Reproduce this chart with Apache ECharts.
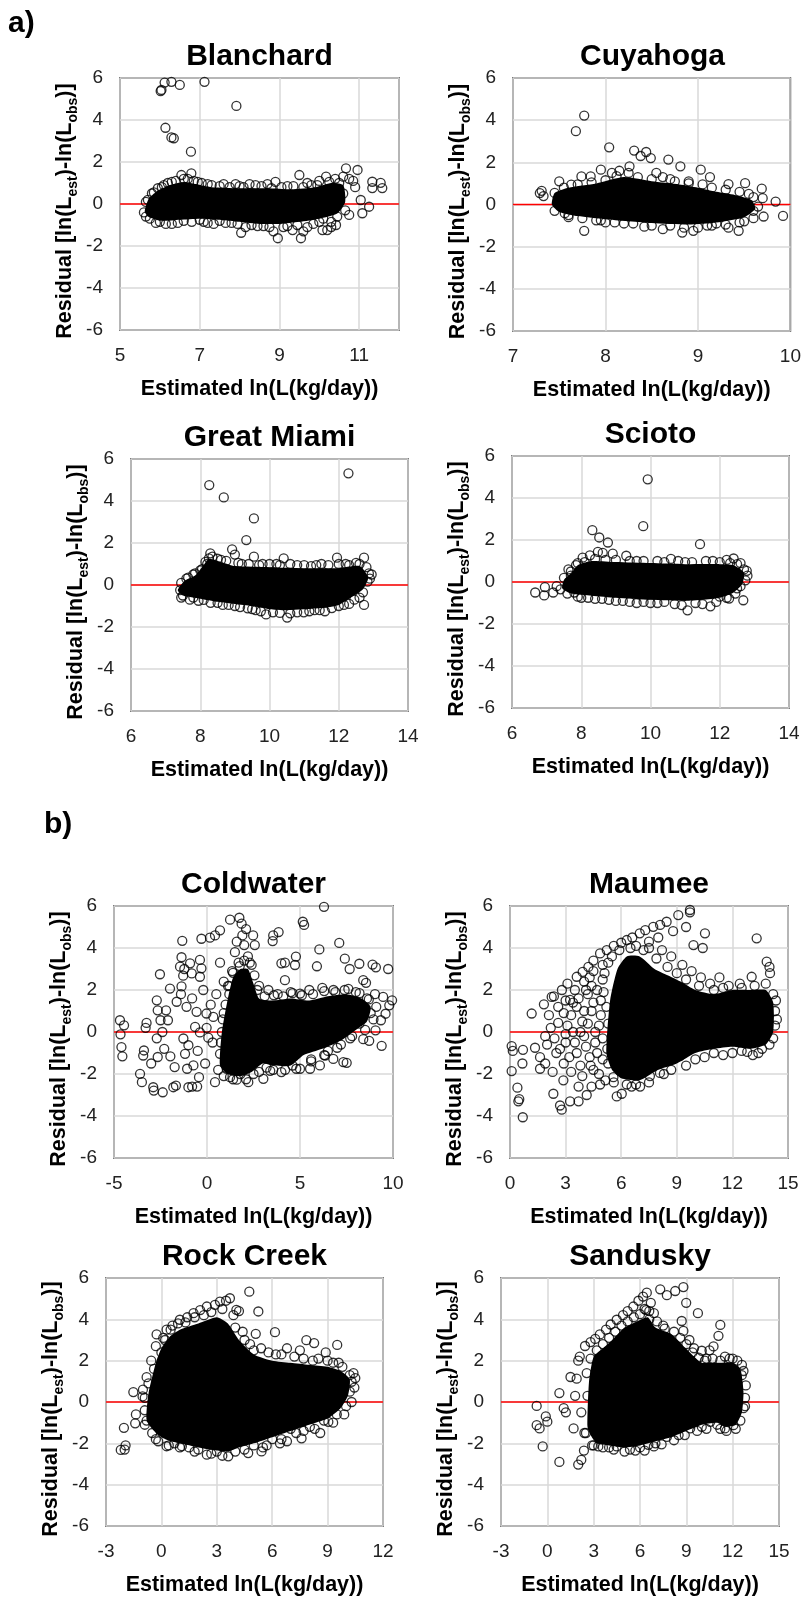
<!DOCTYPE html>
<html>
<head>
<meta charset="utf-8">
<script src="https://cdn.jsdelivr.net/npm/echarts@6/dist/echarts.min.js"></script>
<style>
  html, body { margin: 0; background: #fff; }
  #main { width: 804px; height: 1597px; }
</style>
</head>
<body>
<div id="main"></div>
<script>
// ---- data ----
const panelNames = ['Blanchard', 'Cuyahoga', 'Great Miami', 'Scioto', 'Coldwater', 'Maumee', 'Rock Creek', 'Sandusky'];
const xMins = [5, 7, 6, 6, -5, 0, -3, -3];
const xMaxs = [12, 10, 14, 14, 10, 15, 12, 15];
const xSteps = [2, 1, 2, 2, 5, 3, 3, 3];
const yMin = -6, yMax = 6, yStep = 2;
const zeroResidual = 0;

// scattered circles (outliers, loose points)
const blanchardPoints = [[6.04,5.43],[6.02,5.38],[6.12,5.78],[6.29,5.82],[6.5,5.67],[7.12,5.82],[7.92,4.67],[6.14,3.63],[6.29,3.17],[6.35,3.13],[6.78,2.49],
  [5.7,0.2],[5.8,0.5],[5.95,0.75],[6.1,0.9],[6.3,1.05],[6.54,1.38],[6.79,1.46],[6.7,1.2],[6.95,1.05],[7.2,0.95],[7.5,0.85],[7.9,0.95],[8.1,0.8],[8.4,0.9],[8.8,0.75],[8.9,1.05],[9.2,0.85],[9.5,1.38],[9.8,0.9],[10.0,1.1],[10.17,1.3],[10.4,1.2],[10.67,1.7],[10.96,1.62],[10.85,1.1],[11.33,1.06],[11.54,1.01],[11.58,0.76],[11.33,0.76],[11.04,0.19],[11.25,-0.13],[11.08,-0.44],[10.75,-0.52],[10.42,-1.0],[10.6,0.5],[10.9,0.8],
  [5.6,-0.4],[5.75,-0.7],[6.0,-0.85],[6.3,-0.95],[6.6,-0.8],[7.0,-0.75],[7.2,-0.9],[7.5,-0.8],[7.8,-0.9],[8.04,-1.37],[8.3,-1.0],[8.6,-1.05],[8.96,-1.63],[9.1,-1.1],[9.33,-1.24],[9.54,-1.63],[9.7,-1.1],[10.08,-1.24],[10.2,-1.24],[10.3,-0.85],[10.1,-0.7]];
const cuyahogaPoints = [[7.77,4.22],[7.68,3.48],[8.04,2.71],[8.31,2.56],[8.44,2.49],[8.49,2.2],[8.38,2.3],[8.68,2.13],[8.81,1.81],[9.03,1.65],[9.13,1.3],[9.33,0.97],[9.51,1.01],[9.69,0.75],[9.84,0.14],[9.92,-0.54],[9.71,-0.57],[9.6,-0.3],[9.7,0.3],[9.44,-1.25],[9.33,-1.1],[8.83,-1.33],[8.95,-1.25],[8.62,-1.17],[8.42,-1.05],[7.77,-1.25],[7.29,0.54],[7.33,0.4],[7.31,0.65],[7.56,-0.41],[7.74,1.33],[7.84,1.33],[7.95,1.65],[8.07,1.5],[8.26,1.81],[7.5,1.1],[7.63,0.94],[8.15,1.6],[8.55,1.5],[8.7,1.2],[8.9,1.1],[9.2,-0.9],[9.1,-1.0],[8.2,-0.9],[8.0,-0.85],[7.9,-0.75],[7.6,-0.6],[9.5,-0.8],[9.55,0.5]];
const greatMiamiPoints = [[8.26,4.76],[8.68,4.17],[9.55,3.17],[9.33,2.14],[12.28,5.32],
  [8.82,-0.95],[9.37,-1.11],[9.9,-1.4],[10.51,-1.55],[10.3,-1.33],[10.6,-1.35],[10.99,-1.3],[11.3,-1.2],[11.6,-1.25],[12.73,-0.95],[12.6,-0.6],[12.83,0.16],[12.87,0.55],[12.73,1.3],[11.95,1.3],[10.41,1.27],[9.55,1.35],[8.92,1.7],[9.0,1.45],[8.29,1.51],[8.25,1.27],[7.42,-0.24],[8.1,-0.71],[7.6,0.3],[7.8,0.5],[8.0,0.7],[8.2,1.0],[8.6,1.2],[9.2,1.0],[9.8,1.0],[10.2,1.0],[10.8,0.95],[11.2,0.9],[11.5,1.0],[12.2,1.0],[12.5,1.05],[12.9,0.3],[12.3,-0.9],[12.0,-1.0],[9.6,-1.2],[9.0,-1.0],[8.5,-0.85],[7.8,-0.6],[7.5,-0.5]];
const sciotoPoints = [[9.92,4.89],[9.79,2.66],[8.32,2.47],[8.52,2.12],[8.77,1.88],[8.48,1.43],[8.62,1.39],[8.91,1.35],[8.04,1.16],[8.25,1.27],[11.43,1.8],[7.63,0.6],[6.67,-0.5],[6.93,-0.64],[6.95,-0.24],[7.19,-0.5],[7.29,-0.2],[7.4,-0.35],
  [12.78,0.53],[12.74,0.08],[12.68,-0.87],[12.27,-0.79],[11.73,-1.16],[11.07,-1.35],[12.4,1.12],[12.6,0.9],[10.59,1.1],[9.3,1.25],[7.8,-0.5],[8.0,-0.75],[8.6,-0.8],[9.2,-0.9],[9.8,-0.95],[10.4,-0.95],[11.3,-1.0],[12.0,-0.7],[12.5,-0.3],[7.7,0.3],[7.9,0.9],[9.6,1.0],[10.2,1.0],[11.0,0.95],[11.8,1.0],[12.3,0.9]];
const coldwaterPoints = [[-4.68,0.56],[-4.46,0.32],[-4.65,-0.11],[-4.6,-0.72],[-4.55,-1.16],[-3.6,-1.99],[-3.5,-2.39],[-2.89,-2.63],[-2.38,-2.87],[-2.86,-2.79],[-1.81,-2.63],[-1.67,-2.55],[-1.0,-2.63],[-0.8,-2.6],[-0.53,-2.6],
  [-3.39,-0.88],[-3.43,-1.12],[-3.3,0.2],[-3.25,0.43],[-2.7,-0.3],[-2.65,-1.19],[-2.65,1.03],[-2.7,1.51],[-2.53,2.75],[-2.5,0.56],[-2.4,0.0],[-1.99,2.07],[-2.2,1.03],[-2.1,0.56],[-1.97,-1.16],[-1.74,-1.67],
  [-1.33,4.34],[-1.37,3.56],[-1.45,3.11],[-1.22,3.0],[-1.28,2.68],[-1.37,2.17],[-0.91,3.27],[-0.82,2.79],[-0.38,3.43],[-0.3,3.03],[-0.38,2.63],[-0.3,4.44],[0.16,4.49],[0.43,4.6],[0.7,4.84],[1.24,5.35],[1.74,5.44],[1.86,5.16],[1.9,4.6],[2.48,4.6],[2.0,4.14],[2.57,4.14],
  [3.56,4.6],[3.85,4.76],[3.53,4.33],[5.15,5.25],[5.22,5.1],[6.29,5.96],[4.19,3.3],[4.0,3.27],[4.78,3.59],[4.73,3.19],[6.04,3.93],[5.91,3.13],[7.11,4.24],[7.41,3.49],[7.67,3.0],[8.19,3.25],[8.9,3.21],[9.08,3.08],[9.74,3.0],[8.4,2.47],[8.55,2.34],[4.19,2.47],[5.0,1.83],
  [9.03,1.8],[9.47,1.67],[9.95,1.51],[9.8,1.27],[9.6,0.87],[9.35,0.56],[9.06,0.08],[9.39,-0.66],[8.72,-0.42],[8.4,-0.34],[7.33,-1.43],[7.51,-1.47],[6.79,-1.28],[6.35,-1.12],[6.07,-1.59],[5.54,-1.75],[5.0,-1.75],[4.0,-1.91],[3.56,-1.8],[3.03,-2.23],[2.22,-2.39],[1.6,-2.27],[1.24,-2.15],[1.06,-1.75],[0.43,-2.39],[0.7,-1.04],
  [-0.43,-2.15],[-0.73,-1.59],[-1.07,-1.75],[-1.18,-1.04],[-0.38,-0.02],[-0.02,0.2],[0.07,-0.27],[-0.64,0.24],[-1.0,-0.63],[-1.27,-0.31],[0.7,3.3],[1.4,2.82],[1.13,2.19],[1.76,3.14],
  [-1.63,1.44],[-1.1,1.2],[-0.56,0.96],[-0.03,0.88],[0.34,0.72],[-1.4,1.8],[-0.8,1.6],[0.2,1.3],[0.5,1.8],[-0.2,2.0],[0.9,2.4],[1.5,3.8],[2.2,3.6],[2.4,3.2],[2.1,4.9],[1.6,4.3],[2.8,2.2],[3.3,2.0],[3.8,1.8],[4.5,1.9],[5.5,2.0],[6.2,2.1],[6.8,2.0],[7.4,2.0],[8.0,1.9],[8.6,1.6],[8.8,0.9],[8.2,0.4],[7.8,-0.2],[7.2,-0.6],[6.5,-0.9],[5.6,-1.3],[4.6,-1.6],[3.2,-1.7],[2.5,-2.0],[1.8,-2.0],[1.0,-1.3],[0.8,0.0],[0.9,0.9],[1.2,1.8],[-2.3,-0.8],[-3.0,-1.5],[-0.1,-1.5],[-0.5,-0.9],[0.3,-0.5]];
const maumeePoints = [[0.09,-0.67],[0.15,-0.9],[0.09,-1.86],[0.4,-2.65],[0.45,-3.3],[0.5,-3.2],[0.69,-4.06],[0.7,-0.85],[0.67,-1.5],[1.17,0.88],[1.35,-0.75],[1.62,-1.2],[1.62,-1.75],[3.24,1.53],[2.0,-0.6],[1.9,-1.5],[2.3,-1.9],
  [1.83,1.32],[2.25,1.67],[2.37,1.7],[2.8,2.0],[3.1,2.3],[3.6,2.63],[3.92,2.86],[4.23,3.1],[4.5,3.4],[4.86,3.74],[5.22,3.9],[5.6,4.1],[6.0,4.25],[6.3,4.38],[6.6,4.5],[7.0,4.7],[7.3,4.85],[7.73,5.01],[8.1,5.1],[8.45,5.25],[9.08,5.57],[9.71,5.81],[9.71,5.7],[9.5,5.0],[10.52,4.7],[9.9,4.14],[10.4,4.0],[8.8,4.8],[8.0,4.5],[7.5,4.3],
  [3.0,1.5],[3.5,2.0],[4.0,2.4],[4.5,2.9],[5.0,3.2],
  [2.34,-2.94],[2.7,-3.5],[2.79,-3.7],[3.24,-3.3],[3.7,-3.3],[4.14,-3.0],[4.86,-2.5],[5.58,-2.15],[5.76,-3.07],[6.03,-2.94],[6.56,-2.6],[7.02,-2.6],[7.55,-2.1],[8.09,-1.95],[9.17,-1.15],[2.88,-2.3],[3.3,-1.9],[3.8,-1.6],[4.3,-1.2],[2.5,-1.0],[3.0,-0.5],[3.4,0.0],[3.9,0.5],[4.4,1.0],[4.0,-0.2],[4.6,-0.5],[4.8,0.3],[4.2,1.8],[3.6,1.2],[2.9,0.9],[2.6,0.43],[3.2,-1.2],[4.5,-1.8],[5.0,-1.3],[4.9,1.5],[4.4,2.2],[5.0,2.5],
  [13.31,4.46],[13.85,3.35],[14.0,3.1],[14.03,2.8],[13.04,2.63],[14.2,1.8],[14.3,1.0],[14.3,0.3],[14.2,-0.3],[13.6,-0.8],[13.1,-1.1],[12.5,-0.9],[11.5,-1.1],[10.5,-1.2],[12.5,2.1],[11.5,2.1],[10.8,2.3],[10.3,2.6],[11.3,2.6],[9.8,2.9],[9.3,3.2],[8.7,3.6],[8.2,3.9],[7.5,4.0],[6.8,4.1]];
const rockCreekPoints = [[-2.2,-2.32],[-2.03,-1.25],[-1.94,-2.1],[-1.99,-2.3],[-1.52,0.48],[-1.38,-0.6],[-1.42,-1.03],[-1.02,0.27],[-0.9,-0.4],
  [-0.26,3.27],[0.28,3.5],[1.0,3.98],[1.74,4.3],[2.46,4.62],[3.17,4.86],[3.71,5.02],[3.5,4.9],[2.9,4.7],[2.1,4.45],[1.4,4.1],[0.6,3.7],[4.76,5.34],[5.25,4.38],[4.06,4.46],[4.2,4.4],[5.11,3.3],[6.15,3.38],[7.85,2.99],[8.27,2.85],[9.52,2.76],[10.5,1.16],[10.3,0.98],
  [9.04,-0.96],[8.04,-1.2],[7.59,-1.76],[6.42,-2.0],[5.42,-2.39],[4.7,-2.47],[3.62,-2.63],[2.46,-2.55],[1.11,-2.14],[0.28,-2.14],[-0.17,-1.9],[-0.5,-1.5],[-0.8,-0.9],[-0.9,0.2],[-0.7,0.9],[-0.4,1.6],[0,2.4],[0.2,3.0],
  [4.5,3.0],[5.0,2.5],[5.8,2.4],[6.5,2.3],[7.2,2.2],[8.5,2.1],[9.3,1.9],[9.8,1.7],[10.2,1.3],[10.2,0.5],[10.0,-0.2],[9.5,-0.6],[8.8,-0.9],[7.0,-1.3],[6.0,-1.8],[5.0,-2.1],[4.0,-2.4],[3.0,-2.4],[2.0,-2.3],[1.5,-2.2],[0.7,-2.0],[8.6,-1.5],[7.3,-1.5],[6.8,-1.9],[5.7,-2.1],[4.3,2.2],[6.8,2.6],[7.5,2.5],[8.9,2.4]];
const sanduskyPoints = [[-0.69,-0.19],[-0.69,-1.12],[-0.5,-1.28],[-0.3,-2.15],[-0.1,-0.7],[0,-0.95],[0.78,-2.9],[0.78,0.43],[1.06,-0.3],[1.2,-0.5],[2.0,-3.03],[2.2,-2.8],[2.37,-2.35],[1.7,-1.28],[1.9,1.13],[1.5,1.21],[2.0,2.0],[2.1,2.2],[1.8,0.3],[2.2,-0.5],[2.4,-1.5],
  [2.44,2.71],[2.8,2.9],[3.1,3.05],[3.4,3.27],[3.8,3.5],[4.1,3.75],[4.49,3.98],[4.9,4.2],[5.2,4.4],[5.57,4.62],[5.9,4.9],[6.2,5.1],[6.44,5.29],[6.3,4.5],[6.7,4.8],[7.31,5.45],[7.74,5.17],[8.28,5.37],[8.81,5.56],[8.99,4.8],[9.75,4.3],[11.2,3.73],[11.08,3.2],[10.76,2.69],[10.0,2.48],[8.81,3.44],[8.7,3.92],
  [12.59,1.3],[12.05,-1.12],[11.5,-1.28],[3.3,-2.15],[5.35,-2.3],[4.49,-2.15],[6.54,-2.07],[7.74,-1.69],[9.25,-1.28],[10.55,-0.96],[12.8,0.2],[12.7,-0.3],[12.6,1.8],[12.0,2.1],[11.5,2.2],[10.5,2.5],[10.3,2.1],[9.5,2.6],[9.2,3.0],[7.5,3.7],[6.9,4.3],[6.6,4.4],[3.0,-2.1],[4.0,-2.2],[6.0,-2.2],[7.0,-2.0],[8.5,-1.6],[10,-1.2],[11.0,-1.1]];

// circles sitting on the rim of each dense cloud
const blanchardRim = [[5.65,0.1],[5.85,0.55],[6.05,0.8],[6.2,1.0],[6.4,1.1],[6.6,1.2],[6.85,1.1],[7.05,1.0],[7.3,0.9],[7.6,0.95],[7.75,0.8],[8.0,0.85],[8.25,0.95],[8.55,0.85],[8.7,0.95],[9.05,0.8],[9.35,0.85],[9.6,0.8],[9.7,1.0],[9.95,0.9],[10.25,1.05],[10.5,1.0],[10.6,1.3],[10.75,1.2],
  [5.65,-0.6],[5.9,-0.9],[6.15,-0.95],[6.45,-0.9],[6.8,-0.85],[7.1,-0.85],[7.35,-0.95],[7.65,-0.9],[7.95,-0.95],[8.15,-1.1],[8.45,-1.05],[8.75,-1.1],[8.85,-1.3],[9.2,-1.05],[9.45,-1.0],[9.6,-1.3],[9.85,-0.95],[10.0,-0.85],[10.3,-1.1],[10.45,-0.6],[10.65,-0.3]];
const cuyahogaRim = [[7.45,0.55],[7.55,0.8],[7.7,0.95],[7.85,1.05],[8.0,1.15],[8.12,1.35],[8.25,1.5],[8.35,1.3],[8.5,1.2],[8.62,1.3],[8.75,1.1],[8.9,1.0],[9.05,0.95],[9.15,0.8],[9.3,0.7],[9.45,0.6],[9.6,0.35],
  [7.45,-0.3],[7.6,-0.5],[7.75,-0.65],[7.95,-0.75],[8.1,-0.85],[8.3,-0.9],[8.5,-1.0],[8.7,-1.0],[8.85,-1.1],[9.0,-1.1],[9.15,-1.0],[9.3,-0.95],[9.45,-0.85],[9.6,-0.65],[9.65,-0.1]];
const greatMiamiRim = [[7.45,0.1],[7.65,0.35],[7.85,0.55],[8.05,0.75],[8.15,1.1],[8.35,1.35],[8.5,1.25],[8.75,1.15],[9.1,1.05],[9.4,1.0],[9.7,0.95],[10.0,1.0],[10.3,0.95],[10.6,1.0],[11.0,0.95],[11.35,0.95],[11.7,0.95],[12.0,1.0],[12.3,0.95],[12.6,1.0],[12.8,0.85],[12.95,0.5],
  [7.45,-0.6],[7.7,-0.7],[7.95,-0.75],[8.3,-0.85],[8.65,-0.95],[9.15,-1.05],[9.5,-1.15],[9.75,-1.25],[10.1,-1.3],[10.8,-1.3],[11.15,-1.25],[11.45,-1.2],[11.8,-1.1],[12.15,-0.95],[12.45,-0.7],[12.7,-0.35]];
const sciotoRim = [[7.5,0.2],[7.7,0.5],[7.85,0.8],[8.1,0.95],[8.4,1.1],[8.7,1.05],[9.0,1.05],[9.4,1.0],[9.8,1.0],[10.4,0.95],[10.8,1.0],[11.2,0.95],[11.6,1.0],[12.0,0.95],[12.2,1.05],[12.5,0.85],[12.7,0.6],[12.8,0.3],
  [7.6,-0.55],[7.9,-0.7],[8.2,-0.75],[8.4,-0.8],[8.8,-0.85],[9.0,-0.9],[9.4,-0.95],[9.6,-1.0],[10.0,-1.0],[10.2,-1.0],[10.7,-1.05],[10.9,-1.1],[11.5,-1.05],[11.9,-0.95],[12.2,-0.75],[12.45,-0.55],[12.6,-0.2]];
const coldwaterRim = [[0.6,-1.8],[0.75,-0.5],[0.85,0.6],[1.0,1.3],[1.2,2.2],[1.35,2.9],[1.7,3.3],[2.0,3.4],[2.3,3.3],[2.55,2.7],[2.7,2.0],[3.1,1.7],[3.6,1.75],[4.1,1.7],[4.6,1.85],[5.1,1.75],[5.7,1.8],[6.3,1.95],[6.9,1.9],[7.6,2.05],[8.2,1.85],[8.7,1.55],[9.1,1.2],[8.95,0.6],[8.5,0.1],[7.7,-0.3],[7.0,-0.75],[6.3,-1.1],[5.6,-1.4],[4.8,-1.75],[4.2,-1.8],[3.4,-1.85],[2.8,-1.9],[2.1,-2.25],[1.4,-2.25],[0.9,-2.1]];
const maumeeRim = [[2.2,0.2],[2.4,-0.3],[2.7,-0.8],[2.9,-1.5],[3.1,0.3],[3.3,0.8],[3.5,-0.5],[3.6,-1.0],[3.7,1.6],[3.8,0.0],[3.9,-2.1],[4.0,1.0],[4.1,-0.7],[4.2,0.4],[4.3,2.6],[4.35,-1.6],[4.5,1.4],[4.6,0.0],[4.7,-1.0],[4.7,2.0],[4.8,-2.0],[4.9,0.8],[5.0,-0.3],[5.05,1.9],[5.1,2.8],[5.15,-2.3],[5.2,1.2],[5.25,-0.8],[5.3,0.4],[5.3,3.3],[3.4,1.4],[3.0,-0.1],[2.6,1.2],[2.1,0.8],[1.9,-0.2],[4.1,2.0],[3.7,-2.6],[4.4,-2.6],
  [5.5,3.6],[5.9,3.9],[6.5,4.0],[7.2,3.9],[7.9,3.5],[8.5,3.1],[9.0,2.8],[9.5,2.5],[10.2,2.2],[11.0,2.0],[11.8,2.2],[12.4,2.3],[13.2,2.2],[13.8,2.3],[14.35,1.5],[14.4,0.6],[14.0,-0.6],[13.4,-1.0],[12.8,-0.95],[12.0,-1.0],[11.0,-1.0],[10.0,-1.3],[9.5,-1.6],[8.7,-1.8],[8.3,-2.0],[7.5,-2.4],[6.8,-2.5],[6.3,-2.5],[5.6,-2.4],[5.3,-1.5]];
const rockCreekRim = [[-0.9,-1.1],[-1.0,0.6],[-0.8,1.2],[-0.55,2.0],[-0.3,2.7],[0.1,3.1],[0.5,3.5],[0.9,3.8],[1.3,3.85],[1.8,4.1],[2.3,4.2],[2.7,4.35],[3.3,4.5],[3.9,4.2],[4.0,3.6],[4.4,3.4],[4.8,2.8],[5.4,2.6],[6.2,2.3],[7.7,2.1],[8.2,2.0],[9.0,2.0],[9.6,1.9],[10.4,1.4],[10.45,0.7],[10.3,0.0],[9.9,-0.6],[9.3,-1.0],[8.3,-1.3],[7.7,-1.4],[6.5,-1.8],[5.5,-2.2],[4.5,-2.3],[3.3,-2.6],[2.7,-2.5],[1.8,-2.4],[1.0,-2.2],[0.4,-2.1],[-0.3,-1.8]];
const sanduskyRim = [[2.5,-1.5],[2.6,0.3],[2.55,1.4],[2.8,2.1],[3.2,2.5],[3.6,2.8],[4.0,3.1],[4.4,3.4],[4.8,3.7],[5.2,3.9],[5.6,4.1],[6.0,4.25],[6.4,4.45],[6.6,4.0],[7.1,3.9],[7.6,3.55],[8.2,3.4],[8.6,3.1],[9.0,2.8],[9.4,2.4],[9.8,2.15],[10.2,2.0],[10.7,2.1],[11.2,2.0],[11.8,2.1],[12.3,2.0],[12.7,1.5],[12.85,0.8],[12.8,-0.2],[12.5,-0.9],[12.2,-1.3],[11.6,-1.4],[11.2,-1.3],[10.3,-1.3],[9.7,-1.4],[8.9,-1.6],[8.2,-1.85],[7.4,-2.05],[6.9,-2.15],[6.3,-2.35],[5.7,-2.35],[5.0,-2.4],[4.3,-2.3],[3.6,-2.2],[2.9,-2.1]];

// outline of the saturated (solid black) part of each cloud
const blanchardCore = [[5.62,-0.35],[5.72,0.25],[5.92,0.6],[6.25,0.9],[6.6,1.05],[6.9,0.95],[7.3,0.8],[8,0.75],[8.7,0.75],[9.3,0.7],[9.9,0.8],[10.3,1.0],[10.6,0.9],[10.65,0.1],[10.45,-0.45],[10.0,-0.7],[9.5,-0.85],[9.0,-0.95],[8.5,-0.95],[8.0,-0.85],[7.5,-0.75],[7.0,-0.7],[6.5,-0.75],[6.0,-0.8],[5.7,-0.6]];
const cuyahogaCore = [[7.42,0.0],[7.45,0.55],[7.6,0.8],[7.9,1.0],[8.2,1.3],[8.5,1.1],[8.8,0.95],[9.0,0.8],[9.2,0.6],[9.4,0.45],[9.58,0.2],[9.62,-0.2],[9.5,-0.6],[9.2,-0.85],[8.9,-0.95],[8.5,-0.88],[8.0,-0.7],[7.7,-0.55],[7.5,-0.35]];
const greatMiamiCore = [[7.35,-0.25],[7.55,0.2],[7.85,0.45],[8.1,0.95],[8.25,1.25],[8.6,1.1],[9.0,0.9],[10,0.85],[11,0.8],[12,0.8],[12.6,0.9],[12.85,0.35],[12.7,-0.2],[12.4,-0.55],[12.0,-0.95],[11.5,-1.1],[10.5,-1.2],[10.0,-1.15],[9.5,-1.0],[9.0,-0.9],[8.5,-0.8],[8.0,-0.65],[7.5,-0.5]];
const sciotoCore = [[7.45,-0.3],[7.5,0.1],[7.7,0.4],[7.9,0.8],[8.3,1.0],[9,0.95],[10,0.9],[11,0.85],[12,0.85],[12.4,0.8],[12.7,0.45],[12.65,-0.1],[12.4,-0.5],[12.0,-0.75],[11.5,-0.85],[11,-0.9],[10,-0.85],[9,-0.75],[8.3,-0.65],[7.7,-0.55]];
const coldwaterCore = [[0.7,-1.6],[0.8,0.0],[1.1,1.5],[1.4,2.6],[1.8,3.0],[2.2,3.0],[2.5,2.3],[2.8,1.6],[3.5,1.5],[4.5,1.6],[5.5,1.5],[6.5,1.7],[7.5,1.8],[8.3,1.6],[8.8,1.2],[8.6,0.5],[8.0,0.1],[7.2,-0.4],[6.2,-0.8],[5.2,-1.1],[4.5,-1.6],[3.6,-1.6],[3.0,-1.5],[2.4,-1.9],[1.8,-2.1],[1.1,-2.0]];
const maumeeCore = [[5.2,-1.0],[5.4,1.5],[5.8,3.0],[6.3,3.6],[7.0,3.6],[7.8,3.0],[8.5,2.7],[9.2,2.4],[10,2.0],[11,1.8],[12,2.0],[13,2.0],[13.8,2.0],[14.2,1.4],[14.2,0.0],[13.8,-0.6],[13,-0.8],[12,-0.7],[11,-0.8],[10,-1.0],[9,-1.5],[8,-1.8],[7,-2.3],[6,-2.2],[5.5,-1.8]];
const rockCreekCore = [[-0.8,-0.9],[-0.7,0.4],[-0.3,1.9],[0,2.6],[0.5,3.2],[1,3.5],[2,3.8],[3,4.1],[3.6,3.8],[4.2,3.0],[5,2.3],[6,2.0],[7,1.9],[8,1.8],[9,1.7],[9.7,1.5],[10.2,1.1],[10.1,0.3],[9.7,-0.3],[9,-0.8],[8,-1.1],[7,-1.4],[6,-1.7],[5,-2.0],[4.2,-2.2],[3.6,-2.4],[3,-2.35],[2,-2.2],[1,-2.0],[0.5,-1.9],[0,-1.7],[-0.3,-1.5]];
const sanduskyCore = [[2.6,-1.2],[2.7,1.0],[3,2.2],[3.6,2.6],[4.2,3.0],[5,3.6],[5.8,3.9],[6.5,4.1],[7,3.6],[8,3.3],[8.7,2.8],[9.5,2.2],[10,1.9],[11,1.9],[12,1.9],[12.5,1.6],[12.7,0.5],[12.6,-0.5],[12.2,-1.1],[11.5,-1.2],[11,-1.0],[10,-1.1],[9,-1.4],[8,-1.7],[7,-1.9],[6,-2.1],[5,-2.2],[4,-2.1],[3.2,-2.0],[2.8,-1.6]];

const panelPoints = [
  blanchardPoints.concat(blanchardRim), cuyahogaPoints.concat(cuyahogaRim),
  greatMiamiPoints.concat(greatMiamiRim), sciotoPoints.concat(sciotoRim),
  coldwaterPoints.concat(coldwaterRim), maumeePoints.concat(maumeeRim),
  rockCreekPoints.concat(rockCreekRim), sanduskyPoints.concat(sanduskyRim)
];
const panelCores = [blanchardCore, cuyahogaCore, greatMiamiCore, sciotoCore, coldwaterCore, maumeeCore, rockCreekCore, sanduskyCore];

// ---- layout: plot boxes [left, top, width, height] in px ----
const boxes = [
  [120, 78, 279, 252], [513, 78, 279, 253],
  [131, 459, 277, 252], [512, 456, 277, 252],
  [114, 906, 279, 252], [510, 906, 278, 252],
  [106, 1278, 277, 252], [501, 1278, 278, 252]
];
const FONT = 'Liberation Sans, Arial, sans-serif';

const chart = echarts.init(document.getElementById('main'));

const grids = [], xAxes = [], yAxes = [], series = [];
const titles = [
  { text: 'a)', left: 8, top: 9, padding: 0, textStyle: { fontSize: 30, fontWeight: 'bold', fontFamily: FONT, color: '#000' } },
  { text: 'b)', left: 44, top: 810, padding: 0, textStyle: { fontSize: 30, fontWeight: 'bold', fontFamily: FONT, color: '#000' } }
];

panelNames.forEach((name, i) => {
  const [l, t, w, h] = boxes[i];
  grids.push({ left: l, top: t, width: w, height: h, show: true, borderColor: '#1a1a1a', borderWidth: 1.5, backgroundColor: 'transparent' });
  titles.push({
    text: name, left: l + w / 2, top: t - 36, textAlign: 'center', padding: 0,
    textStyle: { fontSize: 30, fontWeight: 'bold', fontFamily: FONT, color: '#000' }
  });
  xAxes.push({
    gridIndex: i, type: 'value', min: xMins[i], max: xMaxs[i], interval: xSteps[i],
    axisLine: { show: false }, axisTick: { show: false },
    splitLine: { lineStyle: { color: '#d9d9d9', width: 1.5 } },
    axisLabel: { fontSize: 19, color: '#222', fontFamily: FONT, margin: 16, showMinLabel: true, showMaxLabel: i !== 0 },
    name: 'Estimated ln(L(kg/day))', nameLocation: 'middle', nameGap: 48,
    nameTextStyle: { fontSize: 21.5, fontWeight: 'bold', fontFamily: FONT, color: '#000' }
  });
  yAxes.push({
    gridIndex: i, type: 'value', min: yMin, max: yMax, interval: yStep,
    axisLine: { show: false }, axisTick: { show: false },
    splitLine: { lineStyle: { color: '#d9d9d9', width: 1.5 } },
    axisLabel: { fontSize: 19, color: '#222', fontFamily: FONT, margin: 17, showMinLabel: true, showMaxLabel: true },
    name: '{m|Residual [ln(L}{s|est}{m|)-ln(L}{s|obs}{m|)]}',
    nameLocation: 'middle', nameRotate: 90, nameGap: 40,
    nameTextStyle: {
      padding: [0, 14, 0, 0],
      rich: {
        m: { fontSize: 21.5, fontWeight: 'bold', fontFamily: FONT, color: '#000', verticalAlign: 'bottom', padding: [0, 0, 4, 0] },
        s: { fontSize: 14, fontWeight: 'bold', fontFamily: FONT, color: '#000', verticalAlign: 'bottom' }
      }
    }
  });
  // red zero line
  series.push({
    type: 'line', xAxisIndex: i, yAxisIndex: i, silent: true, z: 1,
    data: [[xMins[i], zeroResidual], [xMaxs[i], zeroResidual]],
    symbol: 'none', lineStyle: { color: '#ff0000', width: 1.5 }
  });
  // solid part of the cloud
  const core = panelCores[i];
  series.push({
    type: 'custom', xAxisIndex: i, yAxisIndex: i, silent: true, z: 3,
    data: core,
    renderItem: (params, api) => {
      if (params.dataIndex !== 0) return null;
      return {
        type: 'polygon',
        shape: { points: core.map(p => api.coord(p)), smooth: 0.2 },
        style: { fill: '#000' }
      };
    }
  });
  // individual residuals
  series.push({
    type: 'scatter', xAxisIndex: i, yAxisIndex: i, silent: true, z: 4,
    symbol: 'circle', symbolSize: 9,
    itemStyle: { color: 'rgba(0,0,0,0)', borderColor: '#000', borderWidth: 1.3 },
    data: panelPoints[i]
  });
});

chart.setOption({
  animation: false,
  backgroundColor: '#fff',
  title: titles,
  grid: grids,
  xAxis: xAxes,
  yAxis: yAxes,
  series: series
});
</script>
</body>
</html>
